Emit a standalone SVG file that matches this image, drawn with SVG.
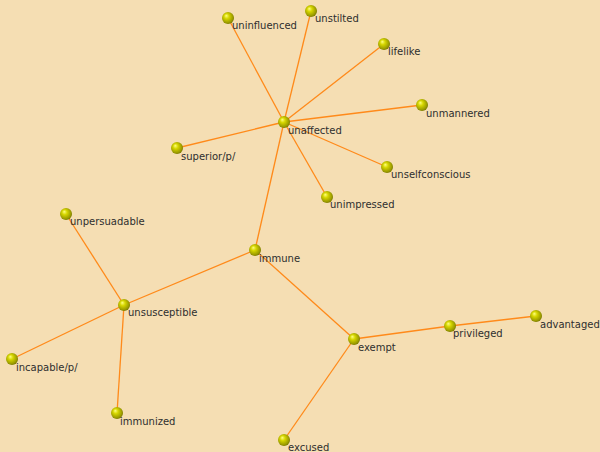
<svg xmlns="http://www.w3.org/2000/svg" width="600" height="452" viewBox="0 0 600 452">
  <defs>
    <radialGradient id="ball" cx="0.45" cy="0.45" r="0.6" fx="0.35" fy="0.3">
      <stop offset="0" stop-color="#ffff80"/>
      <stop offset="0.35" stop-color="#d6d600"/>
      <stop offset="0.8" stop-color="#9a9a00"/>
      <stop offset="1" stop-color="#6e6e00"/>
    </radialGradient>
  </defs>
  <style>
    .edge { stroke: #ff8a1a; stroke-width: 1.3; fill: none; }
    .ball { fill: url(#ball); }
    .label { font-family: "DejaVu Sans", Verdana, sans-serif; font-size: 10px; fill: #2e2e2e; }
  </style>
  <rect width="600" height="452" fill="#f5deb3"/>

  <g id="connectors">
    <line class="edge" x1="284" y1="122" x2="228" y2="18"/>
    <line class="edge" x1="284" y1="122" x2="311" y2="11"/>
    <line class="edge" x1="284" y1="122" x2="384" y2="44"/>
    <line class="edge" x1="284" y1="122" x2="422" y2="105"/>
    <line class="edge" x1="284" y1="122" x2="177" y2="148"/>
    <line class="edge" x1="284" y1="122" x2="387" y2="167"/>
    <line class="edge" x1="284" y1="122" x2="327" y2="197"/>
    <line class="edge" x1="284" y1="122" x2="255" y2="250"/>
    <line class="edge" x1="255" y1="250" x2="124" y2="305"/>
    <line class="edge" x1="255" y1="250" x2="354" y2="339"/>
    <line class="edge" x1="124" y1="305" x2="66" y2="214"/>
    <line class="edge" x1="124" y1="305" x2="12" y2="359"/>
    <line class="edge" x1="124" y1="305" x2="117" y2="413"/>
    <line class="edge" x1="354" y1="339" x2="450" y2="326"/>
    <line class="edge" x1="450" y1="326" x2="536" y2="316"/>
    <line class="edge" x1="354" y1="339" x2="284" y2="440"/>
  </g>

  <g id="uninfluenced"><circle class="ball" cx="228" cy="18" r="6"/><text class="label" x="232" y="29">uninfluenced</text></g>
  <g id="unstilted"><circle class="ball" cx="311" cy="11" r="6"/><text class="label" x="315" y="22">unstilted</text></g>
  <g id="lifelike"><circle class="ball" cx="384" cy="44" r="6"/><text class="label" x="388" y="55">lifelike</text></g>
  <g id="unmannered"><circle class="ball" cx="422" cy="105" r="6"/><text class="label" x="426" y="117">unmannered</text></g>
  <g id="superior"><circle class="ball" cx="177" cy="148" r="6"/><text class="label" x="181" y="160">superior/p/</text></g>
  <g id="unselfconscious"><circle class="ball" cx="387" cy="167" r="6"/><text class="label" x="391" y="178">unselfconscious</text></g>
  <g id="unimpressed"><circle class="ball" cx="327" cy="197" r="6"/><text class="label" x="330" y="208">unimpressed</text></g>
  <g id="unaffected"><circle class="ball" cx="284" cy="122" r="6"/><text class="label" x="288" y="134">unaffected</text></g>
  <g id="unpersuadable"><circle class="ball" cx="66" cy="214" r="6"/><text class="label" x="70" y="225">unpersuadable</text></g>
  <g id="immune"><circle class="ball" cx="255" cy="250" r="6"/><text class="label" x="259" y="262">immune</text></g>
  <g id="unsusceptible"><circle class="ball" cx="124" cy="305" r="6"/><text class="label" x="128" y="316">unsusceptible</text></g>
  <g id="incapable"><circle class="ball" cx="12" cy="359" r="6"/><text class="label" x="16" y="371">incapable/p/</text></g>
  <g id="immunized"><circle class="ball" cx="117" cy="413" r="6"/><text class="label" x="120" y="425">immunized</text></g>
  <g id="exempt"><circle class="ball" cx="354" cy="339" r="6"/><text class="label" x="358" y="351">exempt</text></g>
  <g id="privileged"><circle class="ball" cx="450" cy="326" r="6"/><text class="label" x="453" y="337">privileged</text></g>
  <g id="advantaged"><circle class="ball" cx="536" cy="316" r="6"/><text class="label" x="540" y="328">advantaged</text></g>
  <g id="excused"><circle class="ball" cx="284" cy="440" r="6"/><text class="label" x="288" y="451">excused</text></g>
</svg>
